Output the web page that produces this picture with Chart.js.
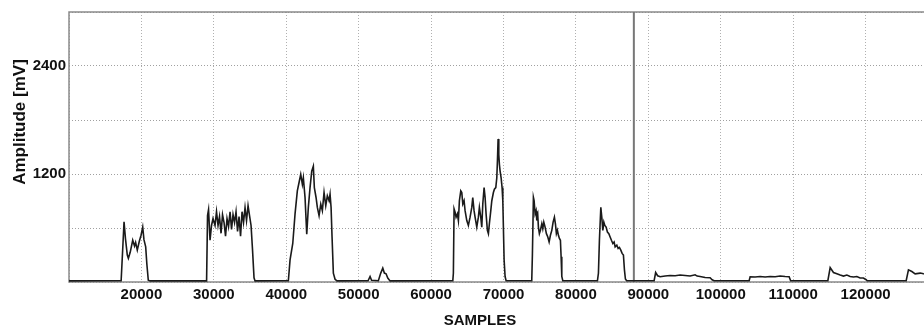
<!DOCTYPE html>
<html><head><meta charset="utf-8">
<script src="https://cdn.jsdelivr.net/npm/chart.js@4.4.0/dist/chart.umd.min.js"></script>
<style>
html,body{margin:0;padding:0;background:#fff;overflow:hidden;width:924px;height:326px}
#wrap{position:relative;width:945px;height:326px}
</style></head>
<body><div id="wrap"><canvas id="c" width="945" height="326"></canvas></div>
<script>
const samples = [
 10000,17200,17450,17600,17800,18050,18200,18450,18800,19050,19200,19430,19700,19950,20180,20350,20590,20750,20950,21200,
 29000,29130,29270,29475,29680,29890,30165,30370,30580,30785,30995,31200,31410,31615,31820,32030,32240,32445,32650,32860,33065,33275,33480,33690,33895,34100,34310,34515,34725,34930,35140,35345,35550,35690,
 40290,40525,40900,41215,41530,41810,42000,42225,42360,42595,42830,43050,43285,43520,43740,43880,44115,44295,44530,44765,44985,45220,45455,45675,45910,46050,46190,46325,46505,46740,47015,
 51300,51575,51780,52720,53050,53330,53550,53785,54020,54335,
 63000,63080,63175,63315,63450,63630,63770,63910,64100,64240,64380,64555,64695,64930,65150,65385,65620,65755,65935,66075,66310,66530,66670,66860,67000,67140,67320,67460,67595,67775,67915,68050,68245,68385,68605,68745,68935,69075,69160,69255,69350,69435,69530,69670,69805,69905,69985,70085,70220,70360,
 73900,73990,74130,74225,74365,74500,74600,74735,74820,74955,75095,75290,75425,75565,75745,75925,76120,76300,76480,76670,76850,77030,77170,77305,77445,77585,77720,77860,77955,78050,78190,
 82970,83110,83245,83440,83575,83715,83855,83990,84170,84350,84545,84725,84905,85100,85275,85415,85650,85830,86005,86200,86380,86560,86700,86835,87000,
 90800,91010,91285,91630,92320,93010,93700,94390,95080,95770,96460,96740,97150,97840,98530,98810,99085,
 103920,104060,104750,105440,106130,106820,107510,108200,108890,109445,109650,
 114790,115110,115565,116035,116490,116945,117415,117870,118330,118790,119245,119700,120080,120220,
 125605,125920,126390,126845,127540,128000,128920,130000
];
const amplitude = [
 12,14,420,670,480,300,263,330,464,400,440,354,450,520,610,470,390,200,20,12,
 12,737,804,464,628,705,628,781,628,727,541,749,661,508,705,617,781,584,749,661,781,563,727,508,781,661,826,683,848,737,628,354,47,12,
 14,245,428,757,1013,1122,1196,1086,1158,939,530,829,1049,1232,1287,1049,939,829,738,866,793,994,848,958,903,976,829,500,99,30,12,
 14,61,20,14,99,154,99,91,44,12,
 14,100,812,775,720,757,683,903,1013,994,866,903,793,683,628,720,829,939,793,720,610,720,829,720,610,866,1049,939,757,574,537,647,793,903,994,1031,1049,1158,1342,1590,1415,1305,1232,1158,1049,903,610,245,61,14,
 14,300,939,903,757,793,683,738,610,537,574,647,592,665,610,537,500,445,519,574,665,720,647,537,574,519,483,464,281,61,14,
 14,99,464,829,720,574,665,628,610,555,537,500,464,428,445,390,409,373,384,354,318,300,135,33,14,
 14,105,69,58,66,72,69,77,72,66,80,66,61,50,47,25,14,
 14,58,55,61,55,61,58,66,61,58,14,
 14,160,105,91,77,66,77,61,55,61,44,44,25,14,
 14,135,116,91,99,91,85,80
];
const markerSample = [88000, 88000];
const markerAmplitude = [0, 3000];
const xTickLabels = [20000,30000,40000,50000,60000,70000,80000,90000,100000,110000,120000];
const yTickLabels = [1200, 2400];
const xTitle = 'SAMPLES';
const yTitle = 'Amplitude [mV]';

const tickFont = {family: "'Liberation Sans',Arial,sans-serif", size: 15, weight: 'bold'};

const framePlugin = {
  id: 'frame',
  beforeDatasetsDraw(chart) {
    const {ctx, chartArea: a} = chart;
    ctx.save();
    ctx.strokeStyle = '#8a8a8a';
    ctx.lineWidth = 1.5;
    ctx.strokeRect(a.left, a.top, a.right - a.left, a.bottom - a.top);
    ctx.restore();
  },
  afterDraw(chart) {
    const {ctx} = chart;
    ctx.save();
    ctx.fillStyle = '#111';
    ctx.font = "bold 15px 'Liberation Sans',Arial,sans-serif";
    ctx.textAlign = 'center';
    ctx.textBaseline = 'alphabetic';
    ctx.fillText(xTitle, 480, 325);
    ctx.translate(20, 122);
    ctx.rotate(-Math.PI / 2);
    ctx.font = "bold 17px 'Liberation Sans',Arial,sans-serif";
    ctx.textBaseline = 'middle';
    ctx.fillText(yTitle, 0, 0);
    ctx.restore();
  }
};

new Chart(document.getElementById('c'), {
  type: 'line',
  data: {
    datasets: [
      {
        data: samples.map((s, i) => ({x: s, y: amplitude[i]})),
        borderColor: '#1a1a1a', borderWidth: 1.6, pointRadius: 0, tension: 0, fill: false
      },
      {
        data: markerSample.map((s, i) => ({x: s, y: markerAmplitude[i]})),
        borderColor: '#777', borderWidth: 2, pointRadius: 0, fill: false
      }
    ]
  },
  options: {
    responsive: false,
    devicePixelRatio: 1,
    animation: false,
    events: [],
    layout: {padding: {left: 0, top: 10, right: 7, bottom: 0}},
    plugins: {legend: {display: false}, tooltip: {enabled: false}},
    scales: {
      x: {
        type: 'linear', min: 10000, max: 130000,
        afterFit(s) { s.height = 44; },
        afterBuildTicks(s) { s.ticks = []; for (let v = 10000; v <= 130000; v += 10000) s.ticks.push({value: v}); },
        ticks: {
          autoSkip: false, maxRotation: 0, padding: 4, color: '#111', font: tickFont,
          callback: v => xTickLabels.includes(v) ? String(v) : ''
        },
        grid: {color: '#b0b0b0', lineWidth: 1, drawTicks: false},
        border: {display: false, dash: [1, 2]}
      },
      y: {
        min: 0, max: 3000,
        afterFit(s) { s.width = 69; },
        afterBuildTicks(s) { s.ticks = []; for (let v = 0; v <= 3000; v += 600) s.ticks.push({value: v}); },
        ticks: {
          autoSkip: false, padding: 3, color: '#111', font: tickFont,
          callback: v => yTickLabels.includes(v) ? String(v) : ''
        },
        grid: {color: '#a0a0a0', lineWidth: 1, drawTicks: false},
        border: {display: false, dash: [1, 2]}
      }
    }
  },
  plugins: [framePlugin]
});
</script>
</body></html>
